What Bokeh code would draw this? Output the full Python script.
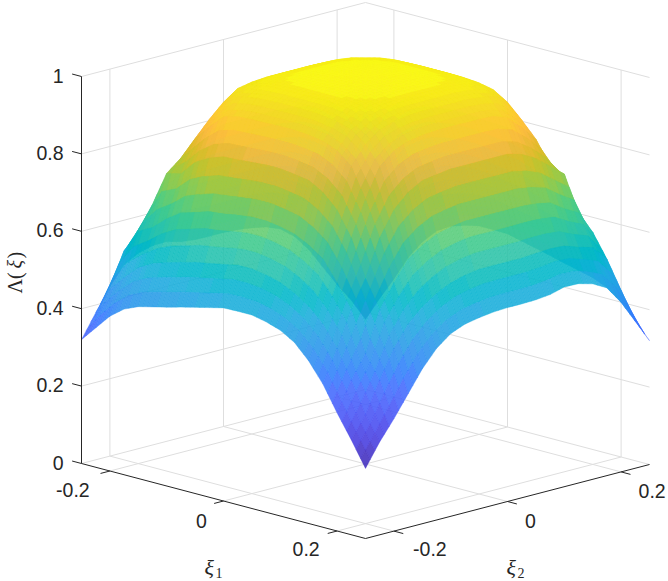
import numpy as np
from bokeh.plotting import figure
from bokeh.models import Range1d
from bokeh.core.properties import value
from bokeh.embed import file_html
from bokeh.resources import INLINE

# Lambda(xi); each row runs over xi_1 = -0.25 .. 0.25 (step 0.025)
xi1 = [-0.25, -0.225, -0.2, -0.175, -0.15, -0.125, -0.1, -0.075, -0.05, -0.025, 0,
       0.025, 0.05, 0.075, 0.1, 0.125, 0.15, 0.175, 0.2, 0.225, 0.25]
xi2 = list(xi1)
row_01 = [.32,.36,.40,.428,.444,.453,.462,.472,.481,.49,.499,.50,.50,.492,.48,.458,.42,.37,.305,.245,.181]
row_02 = [.38,.45,.49,.525,.546,.558,.568,.578,.585,.592,.60,.60,.594,.584,.566,.541,.506,.453,.38,.30,.24]
row_03 = [.438,.54,.60,.62,.652,.677,.688,.70,.704,.71,.715,.715,.709,.70,.681,.655,.603,.543,.44,.38,.29]
row_04 = [.485,.58,.66,.75,.759,.798,.819,.832,.834,.837,.84,.84,.835,.829,.808,.772,.71,.615,.543,.453,.345]
row_05 = [.505,.59,.68,.78,.84,.88,.916,.926,.928,.929,.93,.93,.927,.921,.906,.875,.80,.71,.603,.506,.40]
row_06 = [.515,.603,.705,.81,.88,.93,.958,.966,.969,.97,.97,.97,.968,.962,.95,.922,.875,.772,.655,.541,.443]
row_07 = [.516,.605,.712,.83,.915,.96,.978,.985,.988,.988,.988,.988,.987,.982,.971,.95,.906,.808,.681,.566,.472]
row_08 = [.506,.603,.715,.84,.928,.967,.985,.992,.995,.996,.996,.996,.994,.99,.982,.962,.921,.829,.70,.584,.487]
row_09 = [.502,.60,.715,.84,.93,.97,.988,.995,.998,.999,.999,.999,.997,.994,.987,.968,.927,.835,.709,.594,.494]
row_10 = [.501,.60,.715,.84,.93,.97,.988,.996,.999,1,1,1,.999,.996,.988,.97,.93,.84,.715,.60,.499]
row_11 = [.501,.60,.715,.84,.93,.97,.988,.996,.999,1,1,1,.999,.996,.988,.97,.93,.84,.715,.60,.501]
row_12 = [.499,.60,.715,.84,.93,.97,.988,.996,.999,1,1,1,.999,.996,.988,.97,.93,.84,.715,.60,.501]
row_13 = [.494,.594,.709,.835,.927,.968,.987,.994,.997,.999,.999,.999,.998,.995,.988,.97,.93,.84,.715,.60,.502]
row_14 = [.487,.584,.70,.829,.921,.962,.982,.99,.994,.996,.996,.996,.995,.992,.985,.967,.928,.84,.715,.603,.506]
row_15 = [.472,.566,.681,.808,.906,.95,.971,.982,.987,.988,.988,.988,.988,.985,.978,.96,.915,.83,.712,.605,.516]
row_16 = [.443,.541,.655,.772,.875,.922,.95,.962,.968,.97,.97,.97,.969,.966,.958,.93,.88,.81,.705,.603,.515]
row_17 = [.40,.506,.603,.71,.80,.875,.906,.921,.927,.93,.93,.929,.928,.926,.916,.88,.84,.78,.68,.59,.505]
row_18 = [.345,.453,.543,.615,.71,.772,.808,.829,.835,.84,.84,.837,.834,.832,.819,.798,.759,.75,.66,.58,.485]
row_19 = [.29,.38,.44,.543,.603,.655,.681,.70,.709,.715,.715,.71,.704,.70,.688,.677,.652,.62,.60,.54,.438]
row_20 = [.24,.30,.38,.453,.506,.541,.566,.584,.594,.60,.60,.592,.585,.578,.568,.558,.546,.525,.49,.45,.38]
row_21 = [.181,.245,.305,.37,.42,.458,.48,.492,.50,.50,.499,.49,.481,.472,.462,.453,.444,.428,.40,.36,.32]
rows = [row_01,row_02,row_03,row_04,row_05,row_06,row_07,row_08,row_09,row_10,row_11,
        row_12,row_13,row_14,row_15,row_16,row_17,row_18,row_19,row_20,row_21]

z_ticks = [0, 0.2, 0.4, 0.6, 0.8, 1]
z_tick_labels = ["0", "0.2", "0.4", "0.6", "0.8", "1"]
xi_ticks = [-0.2, 0, 0.2]
xi_tick_labels = ["-0.2", "0", "0.2"]

parula = [
 (0.2422,0.1504,0.6603),(0.2504,0.1650,0.7076),(0.2578,0.1818,0.7511),(0.2647,0.1978,0.7952),
 (0.2706,0.2147,0.8364),(0.2751,0.2342,0.8710),(0.2783,0.2559,0.8991),(0.2803,0.2782,0.9221),
 (0.2813,0.3006,0.9414),(0.2810,0.3228,0.9579),(0.2795,0.3447,0.9717),(0.2760,0.3667,0.9829),
 (0.2699,0.3892,0.9906),(0.2602,0.4123,0.9952),(0.2440,0.4358,0.9988),(0.2206,0.4603,0.9973),
 (0.1963,0.4847,0.9892),(0.1834,0.5074,0.9798),(0.1786,0.5289,0.9682),(0.1764,0.5499,0.9520),
 (0.1687,0.5703,0.9359),(0.1540,0.5902,0.9218),(0.1460,0.6091,0.9079),(0.1380,0.6276,0.8973),
 (0.1248,0.6459,0.8883),(0.1113,0.6635,0.8763),(0.0952,0.6798,0.8598),(0.0689,0.6948,0.8394),
 (0.0297,0.7082,0.8163),(0.0036,0.7203,0.7917),(0.0067,0.7312,0.7660),(0.0433,0.7411,0.7394),
 (0.0964,0.7500,0.7120),(0.1408,0.7584,0.6842),(0.1717,0.7670,0.6554),(0.1938,0.7758,0.6251),
 (0.2161,0.7843,0.5923),(0.2470,0.7918,0.5567),(0.2906,0.7973,0.5188),(0.3406,0.8008,0.4789),
 (0.3909,0.8029,0.4354),(0.4456,0.8024,0.3909),(0.5044,0.7993,0.3480),(0.5616,0.7942,0.3045),
 (0.6174,0.7876,0.2612),(0.6720,0.7793,0.2227),(0.7242,0.7698,0.1910),(0.7738,0.7598,0.1646),
 (0.8203,0.7498,0.1535),(0.8634,0.7406,0.1596),(0.9035,0.7330,0.1774),(0.9393,0.7288,0.2100),
 (0.9728,0.7298,0.2394),(0.9956,0.7434,0.2371),(0.9970,0.7659,0.2199),(0.9952,0.7861,0.1990),
 (0.9892,0.8086,0.1816),(0.9786,0.8292,0.1641),(0.9676,0.8494,0.1492),(0.9610,0.8696,0.1340),
 (0.9597,0.8916,0.1168),(0.9628,0.9150,0.0961),(0.9691,0.9387,0.0746),(0.9769,0.9839,0.0805)]

Z = np.array(rows)
U, V = np.array(xi1), np.array(xi2)
LO, HI = -0.25, 0.25


def proj(u, v, z):
    """Orthographic view of the 3-D axes box onto the page (in page pixels)."""
    u, v, z = np.asarray(u, float), np.asarray(v, float), np.asarray(z, float)
    return (81 + 568 * (u - LO) + 568 * (v - LO),
            463 + 150 * (u - LO) - 148 * (v - LO) - 387 * z)


p = figure(width=668, height=581, output_backend="svg", toolbar_location=None,
           x_range=Range1d(0, 668), y_range=Range1d(581, 0), min_border=0,
           outline_line_color=None, background_fill_color="white", border_fill_color="white")
p.axis.visible = False
p.grid.visible = False

GRID = "#dedede"
DARK = "#262626"


def seg(pts, color, width):
    xs, ys = proj(*np.array(pts).T)
    p.line(xs, ys, line_color=color, line_width=width)


# walls and floor grid
for z in z_ticks:
    seg([(LO, LO, z), (LO, HI, z), (HI, HI, z)], GRID, 1)
for t in xi_ticks:
    seg([(LO, t, 0), (LO, t, 1)], GRID, 1)
    seg([(t, HI, 0), (t, HI, 1)], GRID, 1)
    seg([(t, LO, 0), (t, HI, 0)], GRID, 1)
    seg([(LO, t, 0), (HI, t, 0)], GRID, 1)

# surface: the read grid, each cell shaded smoothly by sub-facets (shading only)
SUB = 3
zmin, zmax = Z.min(), Z.max()
weights = np.linspace(0, 1, SUB + 1)
facets = []
for j in range(len(V) - 1):
    for i in range(len(U) - 1):
        for a in range(SUB):
            for b in range(SUB):
                su = [weights[a], weights[a + 1], weights[a + 1], weights[a]]
                sv = [weights[b], weights[b], weights[b + 1], weights[b + 1]]
                us, vs, zs = [], [], []
                for s, r in zip(su, sv):
                    us.append(U[i] + s * (U[i + 1] - U[i]))
                    vs.append(V[j] + r * (V[j + 1] - V[j]))
                    zs.append((1 - s) * (1 - r) * Z[j, i] + s * (1 - r) * Z[j, i + 1]
                              + (1 - s) * r * Z[j + 1, i] + s * r * Z[j + 1, i + 1])
                zc = float(np.mean(zs))
                depth = 548 * (np.mean(us) - np.mean(vs)) + 105 * zc
                k = int(round((zc - zmin) / (zmax - zmin) * (len(parula) - 1)))
                r_, g_, b_ = parula[k]
                col = "#%02x%02x%02x" % (int(r_ * 255), int(g_ * 255), int(b_ * 255))
                px, py = proj(us, vs, zs)
                facets.append((depth, px.tolist(), py.tolist(), col))
facets.sort(key=lambda f: f[0])
cols = [f[3] for f in facets]
p.patches([f[1] for f in facets], [f[2] for f in facets], fill_color=cols,
          fill_alpha=0.88, line_color=cols, line_alpha=0.6, line_width=0.6)

# axes
seg([(LO, LO, 0), (LO, LO, 1)], DARK, 1)
seg([(LO, LO, 0), (HI, LO, 0), (HI, HI, 0)], DARK, 1)
TL = 0.0165
for z in z_ticks:
    seg([(LO, LO, z), (LO - TL, LO, z)], DARK, 1)
for t in xi_ticks:
    seg([(t, LO, 0), (t, LO - TL, 0)], DARK, 1)
    seg([(HI, t, 0), (HI + TL, t, 0)], DARK, 1)

SANS = value("Liberation Sans")
SERIF = value("Liberation Serif")
zx, zy = proj([LO] * 6, [LO] * 6, z_ticks)
p.text(zx - 18, zy - 1, text=z_tick_labels, text_font=SANS, text_font_size="19.5px",
       text_color=DARK, text_align="right", text_baseline="middle")
ux, uy = proj(xi_ticks, [LO] * 3, [0] * 3)
p.text(ux + np.array([-37, -22, -31]), uy + np.array([19, 19.5, 17.5]), text=xi_tick_labels,
       text_font=SANS, text_font_size="19.5px", text_color=DARK, text_align="center", text_baseline="middle")
vx, vy = proj([HI] * 3, xi_ticks, [0] * 3)
p.text(vx + np.array([36, 23, 31]), vy + np.array([17.5, 19, 19]), text=xi_tick_labels,
       text_font=SANS, text_font_size="19.5px", text_color=DARK, text_align="center", text_baseline="middle")

# axis titles
p.text([204], [567], text=["ξ"], text_font=SERIF, text_font_style="italic", text_font_size="22px",
       text_color=DARK, text_baseline="middle")
p.text([215], [572], text=["1"], text_font=SERIF, text_font_size="14px", text_color=DARK, text_baseline="middle")
p.text([506], [567], text=["ξ"], text_font=SERIF, text_font_style="italic", text_font_size="22px",
       text_color=DARK, text_baseline="middle")
p.text([517], [572], text=["2"], text_font=SERIF, text_font_size="14px", text_color=DARK, text_baseline="middle")
p.text([14], [293], text=["Λ("], text_font=SERIF, text_font_size="20px", text_color=DARK,
       text_baseline="middle", angle=np.pi / 2)
p.text([14], [268], text=["ξ"], text_font=SERIF, text_font_style="italic", text_font_size="20px", text_color=DARK,
       text_baseline="middle", angle=np.pi / 2)
p.text([14], [258], text=[")"], text_font=SERIF, text_font_size="20px", text_color=DARK,
       text_baseline="middle", angle=np.pi / 2)

open("out.html", "w").write(file_html(p, INLINE))
